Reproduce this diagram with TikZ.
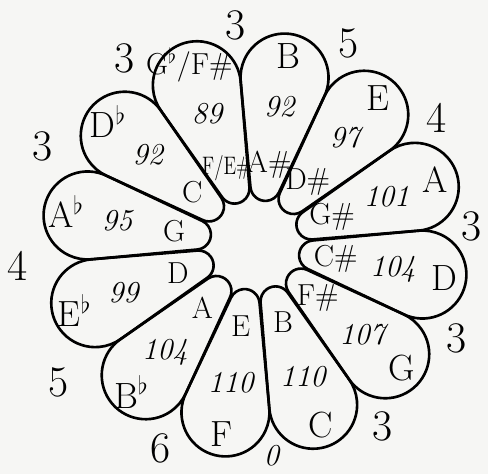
\documentclass[tikz,border=0pt]{standalone}
\usepackage{tikz}
\usetikzlibrary{calc}
\definecolor{paper}{RGB}{246,246,244}

\begin{document}
\begin{tikzpicture}[
  x=0.2mm, y=0.2mm,
  petal/.style={draw, line width=1.5pt, line join=round},
  outnote/.style={font=\huge},
  cents/.style={font=\LARGE\itshape},
  innote/.style={font=\LARGE},
  steps/.style={font=\Huge, inner sep=1pt}
]
  \useasboundingbox[fill=paper] (-255,-229) rectangle (233,245);

  % the twelve petals
  \foreach \ang in {20,50,...,350}
    \draw[petal, rotate=\ang] (56.05,14.47)
      arc[start angle=105.29, end angle=254.71, radius=15]
      -- (158.40,-42.44)
      arc[start angle=-105.29, end angle=105.29, radius=44] -- cycle;

  % notes and numbers in each petal
  \foreach \ang/\outer/\num/\inner [count=\i] in {
      20/A/101/G\#, 50/E/97/D\#, 80/B/92/A\#,
      110/{\LARGE G$^\flat$/F\#}/89/{\Large\scalebox{0.75}[1]{F/E\#}},
      140/D$^\flat$/92/C, 170/A$^\flat$/95/G, 200/E$^\flat$/99/D,
      230/B$^\flat$/104/A, 260/F/110/E, 290/C/110/B,
      320/G/107/F\#, 350/D/104/C\#}{
    \node[outnote] (out\i) at (\ang:192) {\outer};
    \node[cents] (num\i) at (\ang:140) {\num};
    \node[innote] (in\i) at (\ang:82) {\inner};
  }

  % numbers between the petals
  \foreach \ang/\r/\n [count=\i] in {5/217/3, 35/222/4, 65/222/5, 95/220/3,
      125/228/3, 155/234/3, 185/238/4, 215/240/5, 245/224/6,
      305/222/3, 335/222/3}
    \node[steps] (step\i) at (\ang:\r) {\n};
  \node[steps, font=\LARGE\itshape, inner sep=0pt] (step0) at (274.5:211) {0};
\end{tikzpicture}
\end{document}
